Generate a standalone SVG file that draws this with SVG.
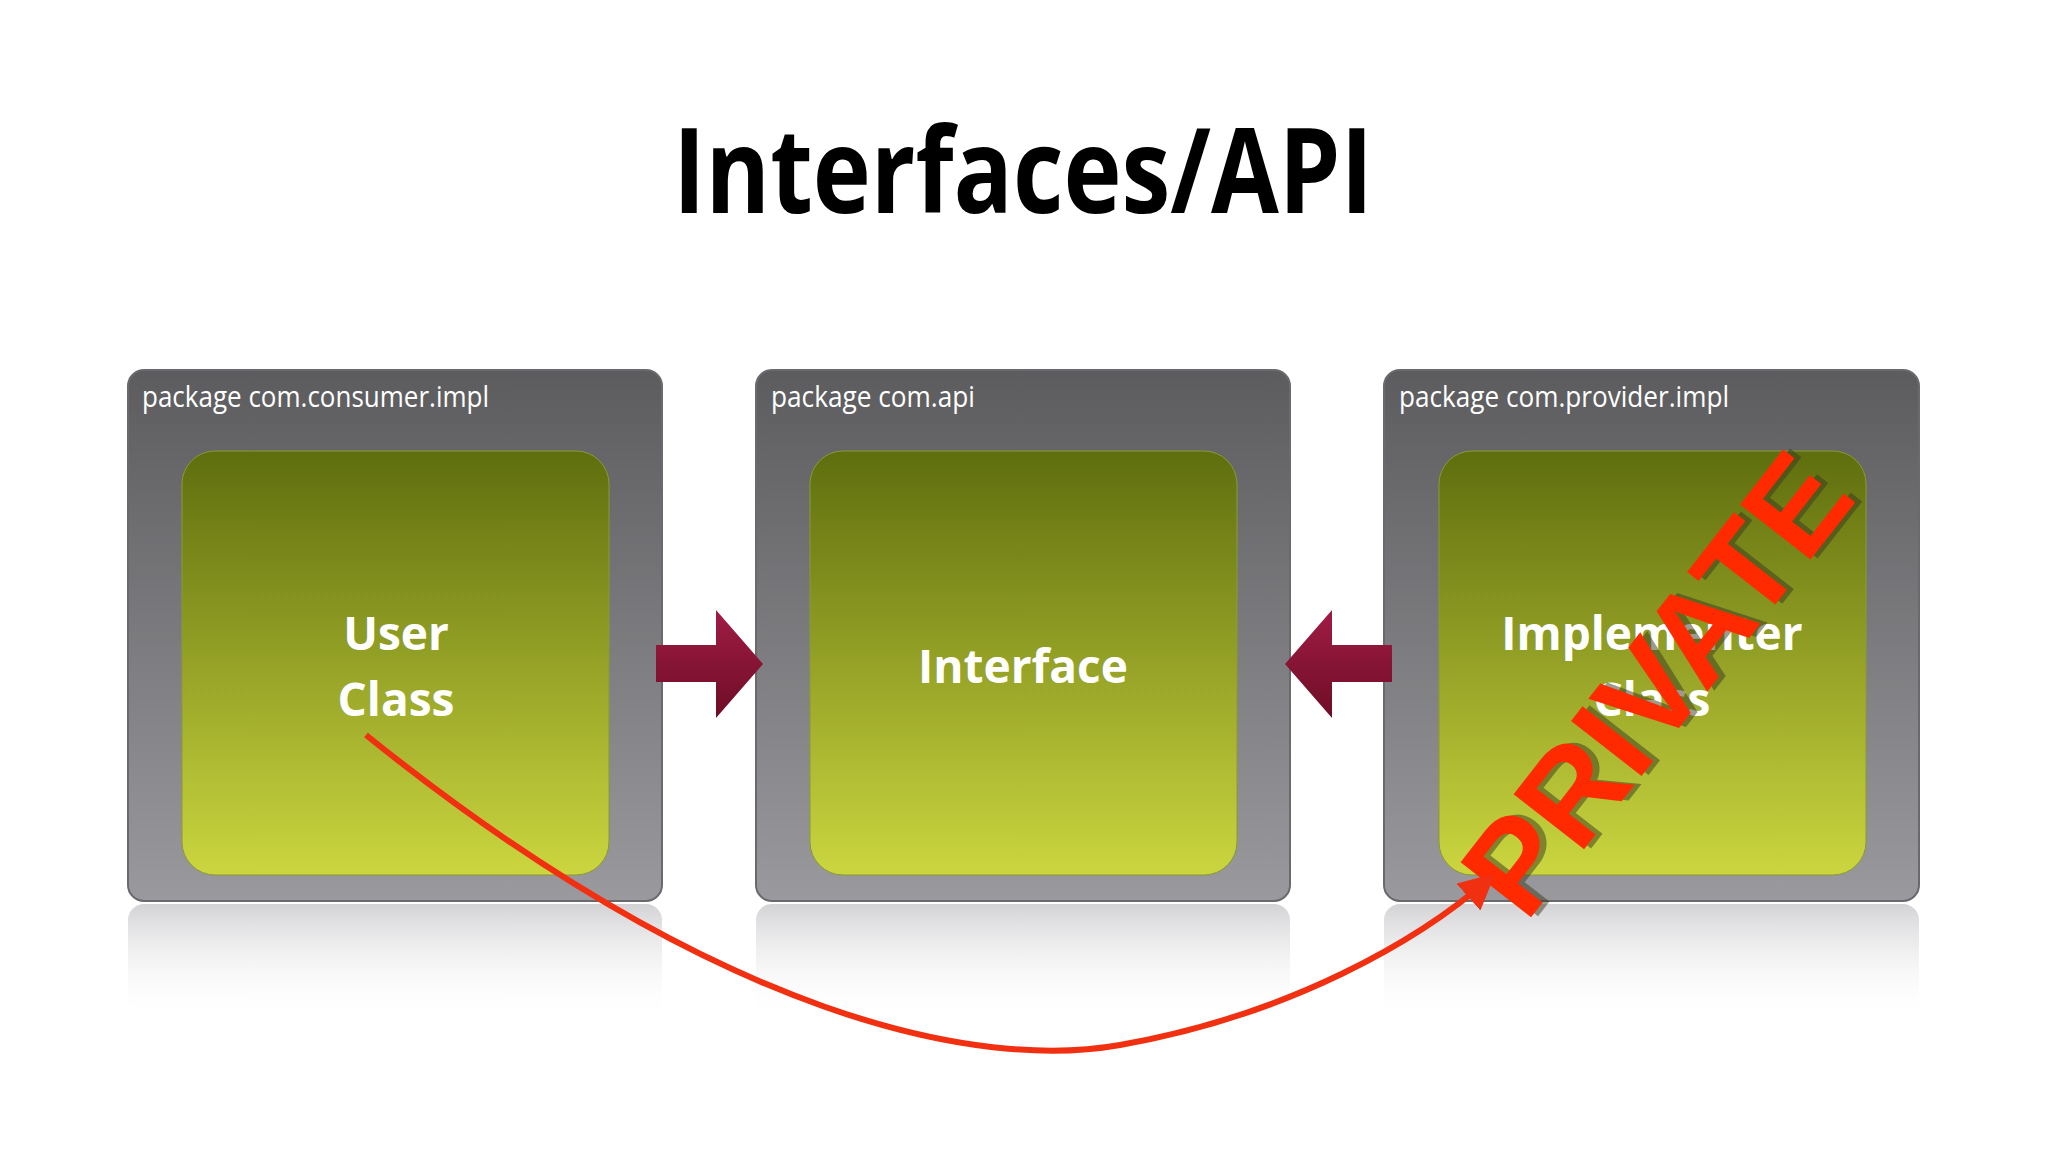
<svg xmlns="http://www.w3.org/2000/svg" width="2048" height="1152" viewBox="0 0 2048 1152">
<defs>
<linearGradient id="outer" x1="0" y1="0" x2="0" y2="1"><stop offset="0" stop-color="#5c5c5f"/><stop offset="1" stop-color="#9a9a9e"/></linearGradient>
<linearGradient id="inner" x1="0" y1="0" x2="0" y2="1"><stop offset="0" stop-color="#5f6e0e"/><stop offset="1" stop-color="#cbd63f"/></linearGradient>
<linearGradient id="refl" x1="0" y1="0" x2="0" y2="1"><stop offset="0" stop-color="#c8c8cc" stop-opacity="0.8"/><stop offset="1" stop-color="#ffffff" stop-opacity="0"/></linearGradient>
<linearGradient id="arr" x1="0" y1="0" x2="0" y2="1"><stop offset="0" stop-color="#a01c45"/><stop offset="1" stop-color="#6e0d25"/></linearGradient>
<marker id="rh" viewBox="0 0 10 10" refX="8" refY="5" markerWidth="6" markerHeight="6" orient="auto" markerUnits="strokeWidth"><path d="M0,0 L10,5 L0,10 Z" fill="#f03010"/></marker>
</defs>
<style>
.outer{fill:url(#outer);stroke:#6a6a6e;stroke-width:2}
.inner{fill:url(#inner);stroke:#8a9a30;stroke-width:1}
.refl{fill:url(#refl)}
.pkg{font-family:"Open Sans","Liberation Sans",sans-serif;font-size:30px;fill:#fff}
.lbl{font-family:"Open Sans","Liberation Sans",sans-serif;font-weight:bold;font-size:46px;fill:#fff;text-anchor:middle}
</style>
<rect width="2048" height="1152" fill="#fff"/>
<text x="1023" y="213" font-family="'Open Sans','Liberation Sans',sans-serif" font-weight="bold" font-size="118" text-anchor="middle" textLength="700" lengthAdjust="spacingAndGlyphs" fill="#000">Interfaces/API</text>
<g id="consumer">
<rect class="refl" x="128" y="904" width="534" height="116" rx="16"/>
<rect class="outer" x="128" y="370" width="534" height="531" rx="16"/>
<text class="pkg" x="142" y="407" textLength="347" lengthAdjust="spacingAndGlyphs">package com.consumer.impl</text>
<rect class="inner" x="182" y="451" width="427" height="424" rx="33"/>
<text class="lbl" x="396" y="650">User</text><text class="lbl" x="396" y="716">Class</text>
</g>
<g id="api">
<rect class="refl" x="756" y="904" width="534" height="116" rx="16"/>
<rect class="outer" x="756" y="370" width="534" height="531" rx="16"/>
<text class="pkg" x="771" y="407" textLength="204" lengthAdjust="spacingAndGlyphs">package com.api</text>
<rect class="inner" x="810" y="451" width="427" height="424" rx="33"/>
<text class="lbl" x="1023" y="683">Interface</text>
</g>
<g id="provider">
<rect class="refl" x="1384" y="904" width="535" height="116" rx="16"/>
<rect class="outer" x="1384" y="370" width="535" height="531" rx="16"/>
<text class="pkg" x="1399" y="407" textLength="330" lengthAdjust="spacingAndGlyphs">package com.provider.impl</text>
<rect class="inner" x="1439" y="451" width="427" height="424" rx="33"/>
<text class="lbl" x="1652" y="650">Implementer</text><text class="lbl" x="1652" y="716">Class</text>
<g transform="translate(1665,690) rotate(-52)">
<text x="5" y="5" font-family="'Liberation Sans',sans-serif" font-weight="bold" font-size="130" text-anchor="middle" dominant-baseline="middle" textLength="540" lengthAdjust="spacingAndGlyphs" fill="#3a3a20" opacity="0.5">PRIVATE</text>
<text x="0" y="0" font-family="'Liberation Sans',sans-serif" font-weight="bold" font-size="130" text-anchor="middle" dominant-baseline="middle" textLength="540" lengthAdjust="spacingAndGlyphs" fill="#ff2a00">PRIVATE</text>
</g>
</g>
<g id="connectors">
<path d="M656,645 L716,645 L716,610 L763,664 L716,718 L716,682 L656,682 Z" fill="url(#arr)"/>
<path d="M1392,645 L1332,645 L1332,610 L1285,664 L1332,718 L1332,682 L1392,682 Z" fill="url(#arr)"/>
<path d="M366,735 C720,1020 980,1070 1120,1045 C1290,1015 1420,940 1490,878" fill="none" stroke="#f03010" stroke-width="6" marker-end="url(#rh)"/>
</g>
</svg>
